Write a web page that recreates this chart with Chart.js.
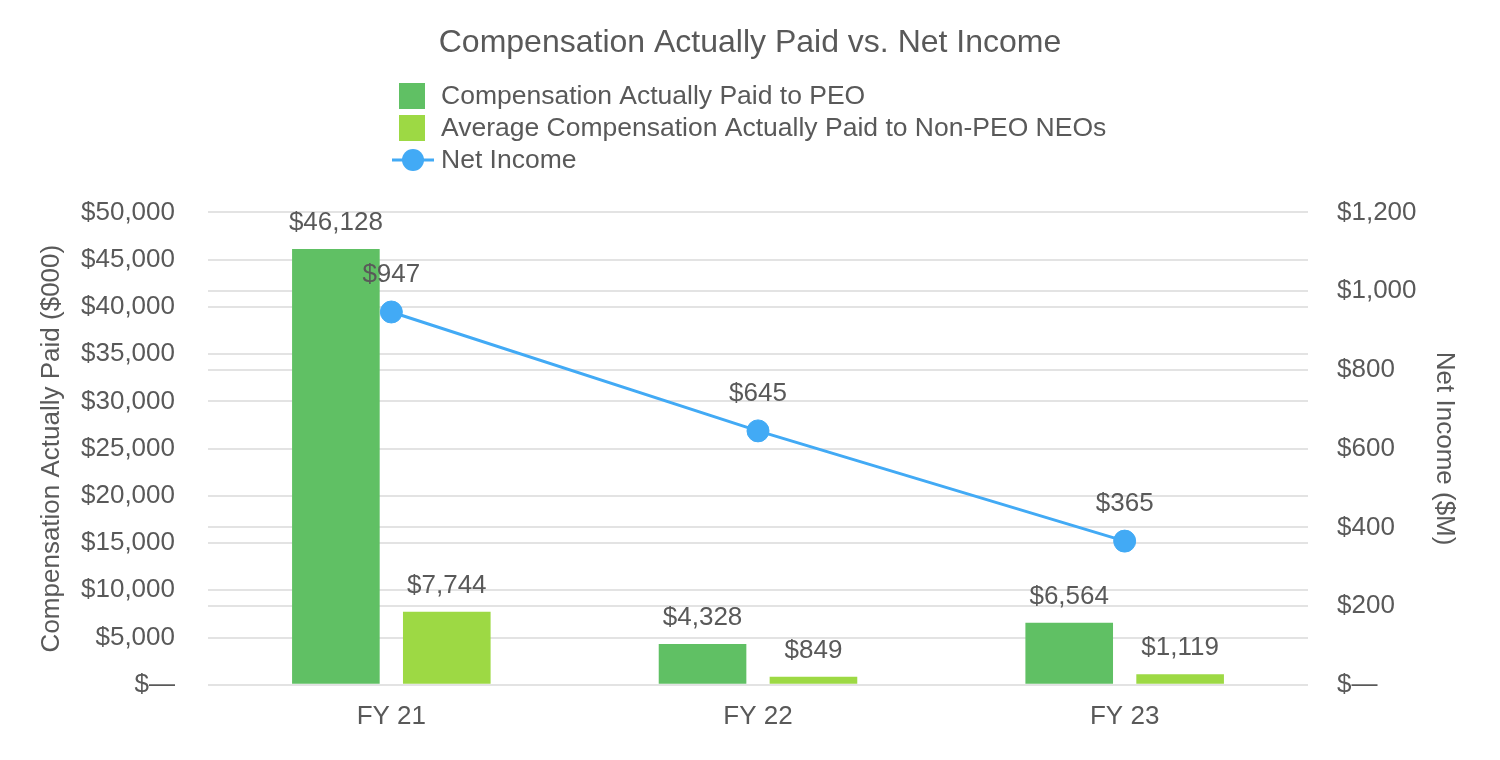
<!DOCTYPE html>
<html>
<head>
<meta charset="utf-8">
<script src="https://cdn.jsdelivr.net/npm/chart.js@4/dist/chart.umd.min.js"></script>
<style>
  html, body { margin: 0; padding: 0; background: #ffffff; }
  #wrap { width: 1500px; height: 760px; }
</style>
</head>
<body>
<div id="wrap"><canvas id="c" width="1500" height="760"></canvas></div>
<script>
// ---- Data ----
const categories = ["FY 21", "FY 22", "FY 23"];
const capPEO = [46128, 4328, 6564];          // $000
const capNonPEO = [7744, 849, 1119];         // $000
const netIncome = [947, 645, 365];           // $M
const seriesNames = [
  "Compensation Actually Paid to PEO",
  "Average Compensation Actually Paid to Non-PEO NEOs",
  "Net Income"
];
const chartTitle = "Compensation Actually Paid vs. Net Income";
const leftAxisTitle = "Compensation Actually Paid ($000)";
const rightAxisTitle = "Net Income ($M)";

// ---- Styles ----
const FONT = "'Liberation Sans', Arial, sans-serif";
const TEXT = "#595959";
const C_PEO = "#60C064";
const C_NON = "#9DD944";
const C_NI = "#42AAF5";
const GRID = "#e3e3e3";

function money(v) {
  if (v === 0) return "$\u2014";
  return "$" + Number(v).toLocaleString("en-US");
}

const dataLabelPlugin = {
  id: "dataLabels",
  afterDatasetsDraw(chart) {
    const ctx = chart.ctx;
    ctx.save();
    ctx.font = "26px " + FONT;
    ctx.fillStyle = TEXT;
    ctx.textAlign = "center";
    ctx.textBaseline = "middle";
    chart.data.datasets.forEach((ds, i) => {
      const meta = chart.getDatasetMeta(i);
      const off = ds.type === "line" ? 37 : 26;
      meta.data.forEach((el, j) => {
        ctx.fillText(money(ds.data[j]), el.x, el.y - off);
      });
    });
    ctx.restore();
  }
};

const legendPlugin = {
  id: "vLegend",
  afterDraw(chart) {
    const ctx = chart.ctx;
    ctx.save();
    ctx.font = "26.5px " + FONT;
    ctx.textAlign = "left";
    ctx.textBaseline = "middle";
    const rows = [96, 128, 160];
    chart.data.datasets.forEach((ds, i) => {
      const y = rows[i];
      if (ds.type === "line") {
        ctx.strokeStyle = ds.borderColor;
        ctx.lineWidth = 3;
        ctx.beginPath();
        ctx.moveTo(392, y);
        ctx.lineTo(434, y);
        ctx.stroke();
        ctx.fillStyle = ds.borderColor;
        ctx.beginPath();
        ctx.arc(413, y, 11, 0, Math.PI * 2);
        ctx.fill();
      } else {
        ctx.fillStyle = ds.backgroundColor;
        ctx.fillRect(399, y - 13, 26, 26);
      }
      ctx.fillStyle = TEXT;
      ctx.fillText(ds.label, 441, y + 1);
    });
    ctx.restore();
  }
};

new Chart(document.getElementById("c"), {
  data: {
    labels: categories,
    datasets: [
      {
        type: "bar",
        label: seriesNames[0],
        data: capPEO,
        yAxisID: "y",
        backgroundColor: C_PEO,
        categoryPercentage: 0.605,
        barPercentage: 0.79,
        order: 1
      },
      {
        type: "bar",
        label: seriesNames[1],
        data: capNonPEO,
        yAxisID: "y",
        backgroundColor: C_NON,
        categoryPercentage: 0.605,
        barPercentage: 0.79,
        order: 1
      },
      {
        type: "line",
        label: seriesNames[2],
        data: netIncome,
        yAxisID: "y1",
        borderColor: C_NI,
        backgroundColor: C_NI,
        borderWidth: 3,
        pointRadius: 11,
        pointBorderWidth: 1,
        pointBackgroundColor: C_NI,
        pointBorderColor: C_NI,
        order: 0
      }
    ]
  },
  options: {
    responsive: false,
    animation: false,
    devicePixelRatio: 1,
    layout: { padding: { left: 0, right: 0, top: 0, bottom: 12 } },
    plugins: {
      legend: { display: false },
      tooltip: { enabled: false },
      title: {
        display: true,
        text: chartTitle,
        color: TEXT,
        font: { family: FONT, size: 32, weight: "normal" },
        padding: { top: 24, bottom: 150 }
      }
    },
    scales: {
      x: {
        grid: { display: false, drawTicks: false },
        border: { display: false },
        ticks: { color: TEXT, font: { family: FONT, size: 26 }, padding: 16 }
      },
      y: {
        position: "left",
        min: 0, max: 50000,
        afterFit: (s) => { s.width = 208; },
        grid: { color: GRID, lineWidth: 2, drawTicks: false },
        border: { display: false },
        ticks: {
          stepSize: 5000, color: TEXT, padding: 33,
          font: { family: FONT, size: 26 },
          callback: (v) => money(v)
        },
        title: {
          display: true, text: leftAxisTitle, color: TEXT,
          font: { family: FONT, size: 26 },
          padding: { top: 36, bottom: 13 }
        }
      },
      y1: {
        position: "right",
        min: 0, max: 1200,
        afterFit: (s) => { s.width = 192; },
        grid: { color: GRID, lineWidth: 2, drawTicks: false },
        border: { display: false },
        ticks: {
          stepSize: 200, color: TEXT, padding: 29,
          font: { family: FONT, size: 26 },
          callback: (v) => money(v)
        },
        title: {
          display: true, text: rightAxisTitle, color: TEXT,
          font: { family: FONT, size: 26 },
          padding: { top: 40, bottom: 13 }
        }
      }
    }
  },
  plugins: [dataLabelPlugin, legendPlugin]
});
</script>
</body>
</html>
